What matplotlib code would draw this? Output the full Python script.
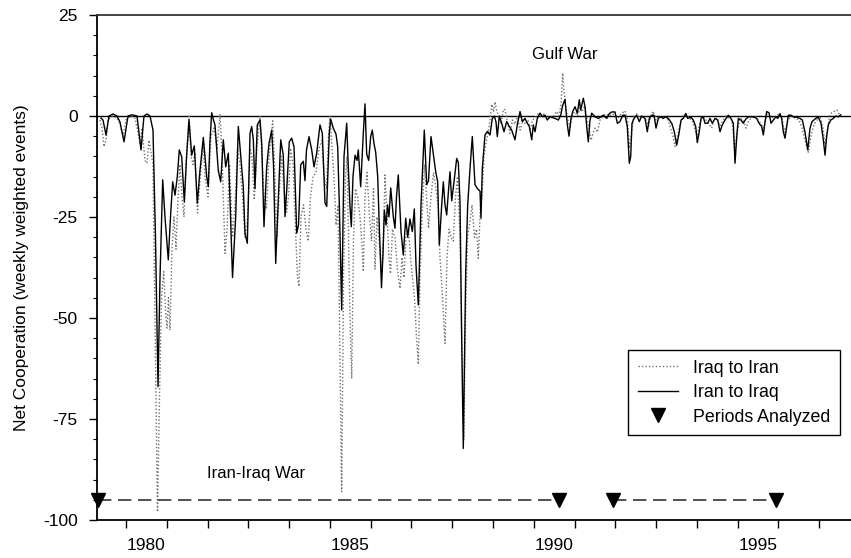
import matplotlib
matplotlib.use("Agg")
import matplotlib.pyplot as plt
import numpy as np

plt.rcParams['font.family'] = ['Liberation Sans', 'DejaVu Sans']
plt.rcParams['axes.unicode_minus'] = False

# ---- data (decimal years, weekly weighted net cooperation) ----
iran_to_iraq_t = [
    1979.387, 1979.436, 1979.510, 1979.583, 1979.681, 1979.779, 1979.853, 1979.951, 1980.049, 1980.147,
    1980.270, 1980.368, 1980.441, 1980.515, 1980.589, 1980.662, 1980.723, 1980.785, 1980.834, 1980.900,
    1980.956, 1981.037, 1981.091, 1981.145, 1981.202, 1981.258, 1981.307, 1981.366, 1981.430, 1981.488,
    1981.545, 1981.611, 1981.675, 1981.748, 1981.815, 1981.896, 1981.979, 1982.018, 1982.060, 1982.102,
    1982.146, 1982.182, 1982.263, 1982.322, 1982.386, 1982.445, 1982.509, 1982.550, 1982.612, 1982.690,
    1982.754, 1982.813, 1982.876, 1982.918, 1982.975, 1983.041, 1983.082, 1983.122, 1983.163, 1983.220,
    1983.286, 1983.328, 1983.384, 1983.450, 1983.507, 1983.573, 1983.617, 1983.671, 1983.735, 1983.794,
    1983.857, 1983.899, 1983.941, 1984.004, 1984.063, 1984.120, 1984.186, 1984.230, 1984.284, 1984.348,
    1984.389, 1984.426, 1984.488, 1984.554, 1984.610, 1984.676, 1984.757, 1984.814, 1984.880, 1984.922,
    1984.985, 1985.020, 1985.083, 1985.150, 1985.191, 1985.231, 1985.289, 1985.346, 1985.412, 1985.451,
    1985.493, 1985.525, 1985.566, 1985.616, 1985.665, 1985.696, 1985.755, 1985.819, 1985.861, 1985.902,
    1985.951, 1986.001, 1986.040, 1986.081, 1986.123, 1986.172, 1986.211, 1986.265, 1986.302, 1986.334,
    1986.376, 1986.413, 1986.449, 1986.491, 1986.555, 1986.596, 1986.633, 1986.677, 1986.744, 1986.800,
    1986.859, 1986.908, 1986.964, 1987.021, 1987.070, 1987.111, 1987.168, 1987.234, 1987.315, 1987.374,
    1987.418, 1987.479, 1987.536, 1987.594, 1987.643, 1987.683, 1987.742, 1987.781, 1987.823, 1987.864,
    1987.904, 1987.945, 1987.987, 1988.043, 1988.109, 1988.149, 1988.190, 1988.232, 1988.271, 1988.330,
    1988.379, 1988.436, 1988.492, 1988.558, 1988.619, 1988.681, 1988.705, 1988.737, 1988.803, 1988.865,
    1988.926, 1988.982, 1989.032, 1989.073, 1989.105, 1989.154, 1989.213, 1989.269, 1989.335, 1989.399,
    1989.458, 1989.539, 1989.595, 1989.662, 1989.718, 1989.784, 1989.841, 1989.890, 1989.949, 1989.988,
    1990.029, 1990.086, 1990.152, 1990.218, 1990.275, 1990.331, 1990.397, 1990.520, 1990.601, 1990.660,
    1990.709, 1990.765, 1990.822, 1990.863, 1990.912, 1990.954, 1991.010, 1991.067, 1991.116, 1991.150,
    1991.214, 1991.256, 1991.297, 1991.336, 1991.378, 1991.420, 1991.501, 1991.582, 1991.704, 1991.788,
    1991.851, 1991.910, 1991.991, 1992.048, 1992.114, 1992.180, 1992.236, 1992.293, 1992.342, 1992.376,
    1992.408, 1992.457, 1992.523, 1992.587, 1992.646, 1992.727, 1992.783, 1992.832, 1992.891, 1992.948,
    1992.997, 1993.053, 1993.112, 1993.176, 1993.217, 1993.298, 1993.382, 1993.445, 1993.504, 1993.561,
    1993.610, 1993.666, 1993.725, 1993.774, 1993.855, 1993.911, 1993.970, 1994.009, 1994.051, 1994.100,
    1994.156, 1994.198, 1994.264, 1994.321, 1994.377, 1994.443, 1994.510, 1994.566, 1994.622, 1994.689,
    1994.770, 1994.836, 1994.892, 1994.934, 1994.976, 1995.015, 1995.081, 1995.137, 1995.196, 1995.260,
    1995.326, 1995.382, 1995.466, 1995.522, 1995.588, 1995.628, 1995.670, 1995.711, 1995.768, 1995.817,
    1995.873, 1995.932, 1995.981, 1996.037, 1996.079, 1996.118, 1996.160, 1996.202, 1996.241, 1996.307,
    1996.363, 1996.447, 1996.528, 1996.584, 1996.650, 1996.717, 1996.773, 1996.822, 1996.913, 1996.977,
    1997.043, 1997.099, 1997.141, 1997.182, 1997.222, 1997.281, 1997.344, 1997.403, 1997.467, 1997.526,
]
iran_to_iraq_v = [
    -0.5, -1, -4.7, 0, 0.5, 0, -1.5, -6.4, 0, 0.3,
    0, -8.4, 0, 0.5, 0, -3.5, -30, -67, -40, -15.8,
    -25, -35.6, -25, -16.3, -19.6, -15, -8.4, -10.1, -21.2, -9.7,
    -1, -9.7, -7.4, -21.6, -13.4, -5.3, -15, -17.5, -6, 0.8,
    -1, -2.2, -13.5, -16.3, -5.9, -12.6, -9.2, -20.8, -40, -24.9,
    -2.6, -9.7, -17.5, -29, -31.5, -4.3, -2.6, -5.9, -18, -2.2,
    -1, -6.8, -27.4, -12.6, -6.8, -3.5, -12, -36.5, -20.8, -5.9,
    -9.7, -24.9, -18.3, -6.4, -5.5, -7.6, -29, -27, -12.1, -11.2,
    -16, -8.4, -5.1, -8.4, -12.6, -9.2, -2.2, -4.3, -21.5, -22.4,
    -4.3, -0.8, -3, -4.5, -7.6, -22, -48, -10, -1.8, -12.6,
    -22.4, -27.4, -15, -9.7, -11, -8.4, -17.5, -4.3, 3, -9.4,
    -11, -5, -3.5, -6.8, -9, -15, -27.4, -42.5, -34.2, -23.3,
    -27, -22, -25, -17.8, -25, -27.8, -20, -14.6, -28.6, -34.4,
    -25.3, -30, -25.5, -28.6, -23, -36.9, -46.8, -22, -3.5, -17,
    -16, -5.1, -9.5, -13.8, -16.3, -31.9, -22, -16.3, -22, -24.5,
    -19, -13.8, -21, -16.3, -10.5, -11.5, -21.2, -55, -82.3, -38.5,
    -22, -13, -5.1, -17, -18, -18.6, -25.3, -13, -4.7, -3.8,
    -4.7, -0.6, 0, -1.5, -5.1, 0, -1.8, -3.9, -1.4, -2.6,
    -3.5, -5.9, -2.2, 1.1, -1.4, -0.6, -1.8, -2.6, -5.9, -2.2,
    -3.9, -0.6, 0.7, -0.2, 0.2, -1, -0.2, -0.6, -1, 0.2,
    2.7, 4.1, -2.2, -5, -0.6, 1.1, 2.3, 0.7, 4, 1.5,
    4.4, 2.3, -2.6, -6.4, -1, 0.7, -0.2, -0.6, 0.2, -0.6,
    0.6, 1, 1, -1.8, -1.4, 0.2, 0.2, -2.6, -11.7, -10,
    -1.8, -0.6, 0.2, -1.4, 0, -0.6, -3.9, -0.6, 0.2, 0.2,
    -3, -0.6, -0.2, -0.6, -0.2, -0.6, -1.8, -3.9, -7.2, -4.3,
    -1, -0.6, 0.6, -0.6, -0.3, -1, -2.6, -6.6, -4.3, -0.6,
    -0.2, -1.8, -1.8, -0.6, -1.8, -0.6, -1, -3.9, -2.2, -1,
    0.2, -0.6, -1.8, -11.7, -5.2, -0.6, -1, -1.8, -0.8, -0.2,
    -0.2, -0.2, -0.6, -1.8, -2.6, -4.7, -1.4, 1.1, 0.8, -1.8,
    -1, -0.2, -0.6, 0.6, -0.6, -3.9, -5.5, -2.6, 0.2, 0.2,
    -0.2, -0.3, -0.6, -1, -4, -8.4, -3, -1.4, -0.6, -0.3,
    -1.8, -5.9, -9.7, -5, -2.2, -1, -0.6, 0, -0.2, 0.3,
]

iraq_to_iran_t = [
    1979.362, 1979.411, 1979.461, 1979.510, 1979.559, 1979.657, 1979.779, 1979.853, 1979.926, 1980.000,
    1980.098, 1980.221, 1980.294, 1980.343, 1980.392, 1980.466, 1980.515, 1980.564, 1980.613, 1980.662,
    1980.711, 1980.772, 1980.821, 1980.871, 1980.924, 1980.969, 1981.005, 1981.042, 1981.079, 1981.128,
    1981.177, 1981.226, 1981.275, 1981.324, 1981.373, 1981.422, 1981.471, 1981.545, 1981.594, 1981.643,
    1981.692, 1981.753, 1981.815, 1981.888, 1981.937, 1982.011, 1982.084, 1982.158, 1982.232, 1982.305,
    1982.354, 1982.428, 1982.477, 1982.538, 1982.612, 1982.673, 1982.734, 1982.795, 1982.857, 1982.918,
    1982.979, 1983.041, 1983.090, 1983.146, 1983.212, 1983.286, 1983.335, 1983.384, 1983.445, 1983.507,
    1983.597, 1983.654, 1983.703, 1983.752, 1983.813, 1983.874, 1983.936, 1983.985, 1984.034, 1984.095,
    1984.144, 1984.205, 1984.242, 1984.291, 1984.353, 1984.414, 1984.470, 1984.524, 1984.586, 1984.659,
    1984.733, 1984.806, 1984.855, 1984.917, 1984.966, 1985.002, 1985.052, 1985.101, 1985.150, 1985.199,
    1985.248, 1985.289, 1985.334, 1985.383, 1985.419, 1985.456, 1985.493, 1985.535, 1985.579, 1985.628,
    1985.677, 1985.738, 1985.787, 1985.819, 1985.861, 1985.910, 1985.971, 1986.020, 1986.069, 1986.106,
    1986.155, 1986.216, 1986.265, 1986.314, 1986.351, 1986.400, 1986.449, 1986.486, 1986.535, 1986.596,
    1986.658, 1986.719, 1986.768, 1986.817, 1986.866, 1986.927, 1986.976, 1987.026, 1987.075, 1987.124,
    1987.168, 1987.209, 1987.259, 1987.320, 1987.369, 1987.418, 1987.479, 1987.541, 1987.602, 1987.651,
    1987.700, 1987.761, 1987.823, 1987.872, 1987.921, 1987.970, 1988.026, 1988.080, 1988.129, 1988.190,
    1988.239, 1988.284, 1988.325, 1988.374, 1988.436, 1988.485, 1988.546, 1988.595, 1988.639, 1988.693,
    1988.730, 1988.779, 1988.840, 1988.901, 1988.968, 1989.012, 1989.049, 1989.098, 1989.147, 1989.196,
    1989.257, 1989.294, 1989.343, 1989.416, 1989.478, 1989.539, 1989.600, 1989.662, 1989.735, 1989.797,
    1989.858, 1989.907, 1989.968, 1990.029, 1990.103, 1990.177, 1990.250, 1990.324, 1990.397, 1990.471,
    1990.562, 1990.618, 1990.667, 1990.709, 1990.741, 1990.790, 1990.839, 1990.888, 1990.949, 1991.010,
    1991.072, 1991.133, 1991.182, 1991.243, 1991.304, 1991.354, 1991.403, 1991.452, 1991.501, 1991.562,
    1991.623, 1991.697, 1991.771, 1991.844, 1991.918, 1991.991, 1992.065, 1992.138, 1992.236, 1992.298,
    1992.347, 1992.396, 1992.457, 1992.531, 1992.604, 1992.678, 1992.751, 1992.813, 1992.874, 1992.923,
    1992.997, 1993.070, 1993.144, 1993.217, 1993.291, 1993.352, 1993.414, 1993.463, 1993.524, 1993.585,
    1993.659, 1993.732, 1993.806, 1993.880, 1993.941, 1994.002, 1994.076, 1994.149, 1994.223, 1994.296,
    1994.362, 1994.419, 1994.493, 1994.566, 1994.640, 1994.713, 1994.787, 1994.860, 1994.934, 1994.983,
    1995.057, 1995.130, 1995.204, 1995.277, 1995.351, 1995.424, 1995.498, 1995.571, 1995.645, 1995.719,
    1995.792, 1995.866, 1995.939, 1996.013, 1996.086, 1996.160, 1996.234, 1996.307, 1996.405, 1996.503,
    1996.577, 1996.650, 1996.731, 1996.798, 1996.871, 1996.945, 1997.018, 1997.092, 1997.141, 1997.190,
    1997.263, 1997.337, 1997.428, 1997.484, 1997.533,
]
iraq_to_iran_v = [
    -1, -3, -7.6, -6, -1, 0, -0.5, -2, -5, -1,
    0, -0.5, -4, -7, -3, -11, -11.7, -6, -9, -12,
    -50, -98, -70, -45, -38.5, -48, -52.5, -45, -53, -32.7,
    -25, -33, -21, -12, -20, -25, -12, 0, -10, -12,
    -9, -24, -16, -7, -15, -20, -5, -3, -8, 0.5,
    -9, -34, -28, -12, -30, -22, -8, -12, -20, -30,
    -26, -8, -10, -20.8, -8, 0, -10, -20, -23, -10,
    -1.2, -15, -30, -20, -10, -18, -23.8, -20, -8, -12,
    -25, -40, -42.2, -25, -22, -28, -31, -20, -15, -14,
    -8, -6, -15, -18, -5, 0, -8, -15, -27, -22,
    -60, -93, -40, -15, -10, -30, -50, -65, -30, -18,
    -20, -25, -32, -38.5, -20, -14, -25, -31, -18, -38,
    -25, -32, -39, -30, -14.6, -25, -35, -39, -28, -30,
    -38, -42.7, -35, -40, -30, -28, -35, -40, -45, -55,
    -61.5, -40, -25, -12, -20, -27.8, -20, -14, -18, -22,
    -35, -45, -56.3, -35, -28, -30, -31, -20, -15, -30,
    -60, -80, -50, -30, -26, -22, -30, -28, -35.2, -22,
    -20, -10, -6, -3, 2.9, 1, 3.5, 1, 0, -2,
    1.7, 1.5, -1, -4.3, -1, -2, 0, -3.5, -1, -2,
    -1, -3.5, -1, -0.5, 0.5, 0, 0.5, -0.5, 0, -0.3,
    1.1, 0, 3, 10.6, 6, 1.5, -1, -3, 0.5, 1,
    0, 2, 1, 2.5, -1, -3, -6, -4.3, -3, -4,
    -1, 0, 0.5, 0, 0.5, 0.3, -0.5, 0.5, 1.3, -1,
    -8, -4, 0, 0.5, -0.5, 0, -1, -2.5, 0, 1.2,
    -1, 0, -0.5, 0, -1, -3, -5, -7.5, -5, -2,
    0, 0.5, -0.5, -1, -3, -5, -1.5, 0, -1, -2,
    -3, -1, -0.5, -2.5, -1, 0, -0.5, -1, -9, -4,
    -0.5, -1, -3, -1, -0.5, 0, -1, -2, -3, 0.5,
    0, -0.5, 0, 0.5, -1, -4, -1, 0, -0.5, -1,
    -3, -6, -9, -5, -2, -1, 0, -3, -7, -4,
    0.5, 1, 1.5, 0.5, 0,
]

period_t = [1979.313, 1990.625, 1991.935, 1995.939]
period_v = [-95, -95, -95, -95]

year_ticks = list(range(1980, 1998))
year_labels = ['1980', '1985', '1990', '1995']
label_pos = [1980.5, 1985.5, 1990.5, 1995.5]
y_major = [25, 0, -25, -50, -75, -100]

# ---- figure ----
fig = plt.figure(figsize=(8.51, 5.58), dpi=100)
ax = fig.add_axes([97 / 851, 1 - 520 / 558, 1 - 97 / 851, 505 / 558])

ax.plot(iraq_to_iran_t, iraq_to_iran_v, color='#707070', lw=1.0,
        linestyle=(0, (1, 1.5)), label='Iraq to Iran', zorder=2)
ax.plot(iran_to_iraq_t, iran_to_iraq_v, color='black', lw=1.0,
        label='Iran to Iraq', zorder=3)
ax.axhline(0, color='black', lw=1.0, zorder=1)

# periods analyzed
ax.plot(period_t[0:2], period_v[0:2], color='#333333', lw=1.2, linestyle=(0, (8, 4)), zorder=2)
ax.plot(period_t[2:4], period_v[2:4], color='#333333', lw=1.2, linestyle=(0, (8, 4)), zorder=2)
ax.plot(period_t, period_v, linestyle='none', marker='v', color='black', markersize=10,
        label='Periods Analyzed', zorder=4, clip_on=False)

ax.set_xlim(1979.289, 1997.778)
ax.set_ylim(-100, 25)

ax.set_xticks(year_ticks)
ax.set_xticklabels([])
ax.set_xticks(label_pos, minor=True)
ax.set_xticklabels(year_labels, minor=True)
ax.tick_params(axis='x', which='major', direction='out', length=6, width=1)
ax.tick_params(axis='x', which='minor', length=0, pad=13, labelsize=12.5)

ax.set_yticks(y_major)
ax.set_yticks(np.arange(-100, 26, 5), minor=True)
ax.tick_params(axis='y', which='major', direction='out', length=6, width=1, labelsize=12.5, pad=8)
ax.tick_params(axis='y', which='minor', direction='out', length=3, width=0.8)

for s in ['left', 'bottom', 'top']:
    ax.spines[s].set_linewidth(1.3)
    ax.spines[s].set_color('black')
ax.spines['top'].set_color('#333333')
ax.spines['right'].set_visible(False)

ax.set_ylabel('Net Cooperation (weekly weighted events)', fontsize=12.5, labelpad=10)

ax.text(1990.765, 15.3, 'Gulf War', ha='center', va='center', fontsize=12)
ax.text(1983.188, -88.4, 'Iran-Iraq War', ha='center', va='center', fontsize=12)

leg = ax.legend(loc='upper left', bbox_to_anchor=(0.704, 0.337), fontsize=12.8,
                frameon=True, fancybox=False, edgecolor='black', framealpha=1,
                handlelength=2.3, borderpad=0.55, labelspacing=0.42, handletextpad=0.8,
                borderaxespad=0)
leg.get_frame().set_linewidth(1.0)

fig.savefig('out.png', dpi=100)
